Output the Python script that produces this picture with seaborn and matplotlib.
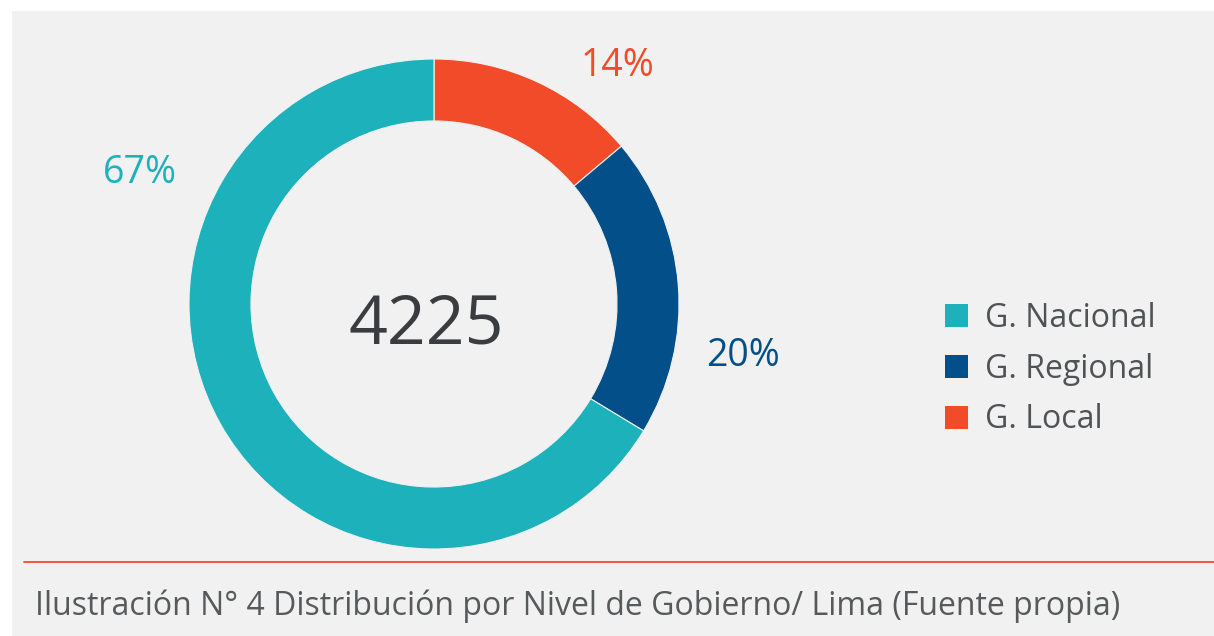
import matplotlib.pyplot as plt
import seaborn as sns
from matplotlib.patches import Rectangle
from matplotlib.lines import Line2D

# Data
categories = ["G. Nacional", "G. Regional", "G. Local"]
percentages = [67, 20, 14]
total = 4225
colors = ["#1DB1BC", "#024F89", "#F14B2A"]
caption = "Ilustración N° 4 Distribución por Nivel de Gobierno/ Lima (Fuente propia)"

sns.set_theme(style="white")
plt.rcParams["font.family"] = ["Open Sans", "DejaVu Sans"]

bg = "#F0F1F0"
fig = plt.figure(figsize=(12.14, 6.36), dpi=100)
fig.patch.set_facecolor("white")
# grey panel
fig.patches.append(Rectangle((12 / 1214, 0), 1, 1 - 11 / 636, transform=fig.transFigure,
                             facecolor=bg, edgecolor="none", zorder=-5))
# red separator line
fig.lines.append(Line2D([24 / 1214, 1], [1 - 562 / 636] * 2, transform=fig.transFigure,
                        color="#F14B2A", linewidth=1.3, zorder=-4))

ax = fig.add_axes([189 / 1214, 87 / 636, 490 / 1214, 490 / 636])
ax.set_facecolor("none")
ax.set_zorder(2)

# pie drawn clockwise from top: Local, Regional, Nacional
order = [2, 1, 0]
wedges, _ = ax.pie([percentages[i] for i in order], colors=[colors[i] for i in order],
                   startangle=90, counterclock=False, radius=1,
                   wedgeprops=dict(width=0.253, edgecolor=bg, linewidth=0.8))
ax.set_xlim(-1, 1)
ax.set_ylim(-1, 1)
ax.set_aspect("equal")
ax.axis("off")

ax.text(-0.033, -0.09, f"{total}", ha="center", va="center", fontsize=49, color="#3A3C40")

label_pos = {0: (-1.2, 0.536), 1: (1.26, -0.212), 2: (0.747, 0.972)}
for i, (cat, pct) in enumerate(zip(categories, percentages)):
    x, y = label_pos[i]
    ax.text(x, y, f"{pct}%", ha="center", va="center", fontsize=27, color=colors[i])

# legend
handles = [Rectangle((0, 0), 1, 1, facecolor=c, edgecolor="none") for c in colors]
leg = fig.legend(handles, categories, loc="center left", bbox_to_anchor=(916 / 1214, 1 - 369 / 636),
                 frameon=False, fontsize=23, labelcolor="#505256",
                 handlelength=0.72, handleheight=0.72, handletextpad=0.55, labelspacing=0.56)

fig.text(35 / 1214, 1 - 606 / 636, caption, ha="left", va="center", fontsize=23, color="#58595B")

fig.savefig("out.png", dpi=100, facecolor=fig.get_facecolor())
